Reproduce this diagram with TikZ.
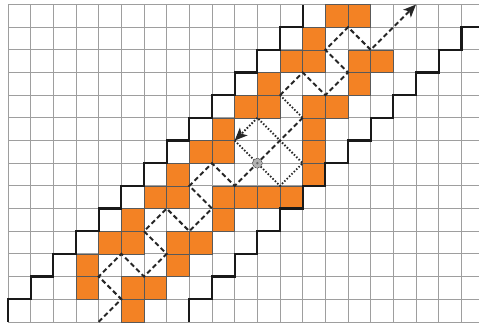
\documentclass[tikz,border=0pt]{standalone}
\usetikzlibrary{arrows.meta}
\definecolor{cellorange}{RGB}{243,130,36}
\begin{document}
\begin{tikzpicture}[x=1cm,y=1cm,
  gridline/.style={draw=black!38, line width=1pt},
  cell/.style={fill=cellorange, draw=black!65, line width=0.9pt},
  stair/.style={draw=black!90, line width=2.8pt, line join=miter},
  ray/.style={draw=black!85, line width=2.5pt, dash pattern=on 6pt off 3.8pt},
  dotray/.style={draw=black!85, line width=2.3pt, dash pattern=on 1.9pt off 2.3pt},
  tipend/.style={-{Stealth[length=16pt,width=13.5pt,inset=4pt]}}
]
\useasboundingbox (-0.353,-0.088) rectangle (20.777,14.2);
\begin{scope}
\clip (-0.353,-0.088) rectangle (20.777,14.2);
% grid
\foreach \x in {0,...,20} \draw[gridline] (\x,0) -- (\x,14);
\foreach \y in {0,...,14} \draw[gridline] (0,\y) -- (21,\y);
% orange cells
\foreach \cx/\cy in {14/13,15/13, 13/12, 12/11,13/11,15/11,16/11, 11/10,15/10,
  10/9,11/9,13/9,14/9, 9/8,13/8, 8/7,9/7,13/7, 7/6,13/6,
  6/5,7/5,9/5,10/5,11/5,12/5, 5/4,9/4, 4/3,5/3,7/3,8/3, 3/2,7/2, 3/1,5/1,6/1, 5/0}
  \draw[cell] (\cx,\cy) rectangle ++(1,1);
% staircases
\draw[stair] (0,0) -- (0,1) -- (1,1) -- (1,2) -- (2,2) -- (2,3) -- (3,3) -- (3,4)
  -- (4,4) -- (4,5) -- (5,5) -- (5,6) -- (6,6) -- (6,7) -- (7,7) -- (7,8) -- (8,8)
  -- (8,9) -- (9,9) -- (9,10) -- (10,10) -- (10,11) -- (11,11) -- (11,12) -- (12,12)
  -- (12,13) -- (13,13) -- (13,14);
\draw[stair] (8,0) -- (8,1) -- (9,1) -- (9,2) -- (10,2) -- (10,3) -- (11,3) -- (11,4)
  -- (12,4) -- (12,5) -- (13,5) -- (13,6) -- (14,6) -- (14,7) -- (15,7) -- (15,8)
  -- (16,8) -- (16,9) -- (17,9) -- (17,10) -- (18,10) -- (18,11) -- (19,11) -- (19,12)
  -- (20,12) -- (20,13) -- (21,13);
\end{scope}
% path vertices
\coordinate (p0) at (4,0);   \coordinate (p1) at (5,1);   \coordinate (p2) at (4,2);
\coordinate (p3) at (5,3);   \coordinate (p4) at (6,2);   \coordinate (p5) at (7,3);
\coordinate (p6) at (6,4);   \coordinate (p7) at (7,5);   \coordinate (p8) at (8,4);
\coordinate (p9) at (9,5);   \coordinate (p10) at (8,6);  \coordinate (p11) at (9,7);
\coordinate (p12) at (10,6); \coordinate (c) at (11,7);   \coordinate (p13) at (13,9);
\coordinate (p14) at (12,10);\coordinate (p15) at (13,11);\coordinate (p16) at (14,10);
\coordinate (p17) at (15,11);\coordinate (p18) at (14,12);\coordinate (p19) at (15,13);
\coordinate (p20) at (16,12);\coordinate (p21) at (18,14);
\coordinate (q1) at (10,8);  \coordinate (q2) at (11,9);  \coordinate (q3) at (12,8);
\coordinate (q4) at (13,7);  \coordinate (q5) at (12,6);
% dotted detour
\draw[dotray] (q1) -- (c) -- (q5) -- (q4) -- (q3) -- (q2);
\draw[dotray] (p14) -- (p13);
\draw[dotray, tipend] (q2) -- (q1);
% dashed ray
\draw[ray] (p0) -- (p1) -- (p2) -- (p3) -- (p4) -- (p5) -- (p6) -- (p7) -- (p8)
  -- (p9) -- (p10) -- (p11) -- (p12) -- (c) -- (p13);
\draw[ray, tipend] (p14) -- (p15) -- (p16)
  -- (p17) -- (p18) -- (p19) -- (p20) -- (p21);
% marker
\node[circle, minimum size=0.44cm, inner sep=0pt, fill=black!30, draw=black!80,
  line width=0.8pt, dash pattern=on 1pt off 1pt] (m) at (c) {};
\fill[black!60] (m.center) circle (0.06);
\end{tikzpicture}
\end{document}
